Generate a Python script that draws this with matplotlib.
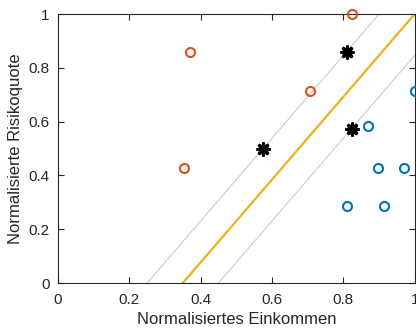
import numpy as np
import matplotlib
matplotlib.use("Agg")
import matplotlib.pyplot as plt
from matplotlib.ticker import FuncFormatter

# Klasse 1 (orange): normalisiertes Einkommen / Risikoquote
class1_x = [0.354, 0.369, 0.707, 0.825, 0.576, 0.809]
class1_y = [0.429, 0.857, 0.714, 1.000, 0.500, 0.857]

# Klasse 2 (blau)
class2_x = [1.000, 0.869, 0.898, 0.971, 0.810, 0.913, 0.825]
class2_y = [0.714, 0.585, 0.429, 0.429, 0.286, 0.286, 0.571]

# Stuetzvektoren
sv_x = [0.576, 0.809, 0.825]
sv_y = [0.500, 0.857, 0.571]
sv_class = [1, 1, 2]

# Trennlinie: x-Achsenabschnitt (y=0) und Steigung, plus Randlinien
boundary_x0 = 0.35
margin_x0 = [0.25, 0.45]
slope = 1 / 0.65

BLUE = "#0072BD"
ORANGE = "#D95319"
YELLOW = "#EDB120"
AXC = "#262626"

plt.rcParams["font.family"] = ["Liberation Sans", "DejaVu Sans"]

fig = plt.figure(figsize=(4.16, 3.29), dpi=100)
ax = fig.add_axes([0.1394, 0.1398, 0.8575, 0.8176])

xs = np.array([0.0, 1.0])
for x0 in margin_x0:
    ax.plot(xs, slope * (xs - x0), color="#CCCCCC", lw=0.8, zorder=1)
ax.plot(xs, slope * (xs - boundary_x0), color=YELLOW, lw=1.6, zorder=2)

ax.plot(class1_x, class1_y, "o", mfc="none", mec=ORANGE, ms=6.5, mew=1.5,
        clip_on=False, zorder=3)
ax.plot(class2_x, class2_y, "o", mfc="none", mec=BLUE, ms=6.5, mew=1.5,
        clip_on=False, zorder=3)

for x, y, c in zip(sv_x, sv_y, sv_class):
    col = ORANGE if c == 1 else BLUE
    ax.plot(x, y, "o", color=col, ms=5, zorder=4)
    ax.plot(x, y, marker=(8, 2, 0), color="black", ms=10, mew=2.0, zorder=5)

ax.set_xlim(0, 1)
ax.set_ylim(0, 1)
ticks = [0, 0.2, 0.4, 0.6, 0.8, 1]
ax.set_xticks(ticks)
ax.set_yticks(ticks)
fmt = FuncFormatter(lambda v, p: "%g" % v)
ax.xaxis.set_major_formatter(fmt)
ax.yaxis.set_major_formatter(fmt)
ax.tick_params(direction="in", length=4, width=0.8, colors=AXC,
               top=True, right=True, labelsize=11)
ax.tick_params(axis="x", pad=7)
ax.tick_params(axis="y", pad=6)
for s in ax.spines.values():
    s.set_color(AXC)
    s.set_linewidth(0.8)

ax.set_xlabel("Normalisiertes Einkommen", fontsize=12, color=AXC, labelpad=4)
ax.set_ylabel("Normalisierte Risikoquote", fontsize=12, color=AXC, labelpad=4)

fig.savefig("out.png", dpi=100)
